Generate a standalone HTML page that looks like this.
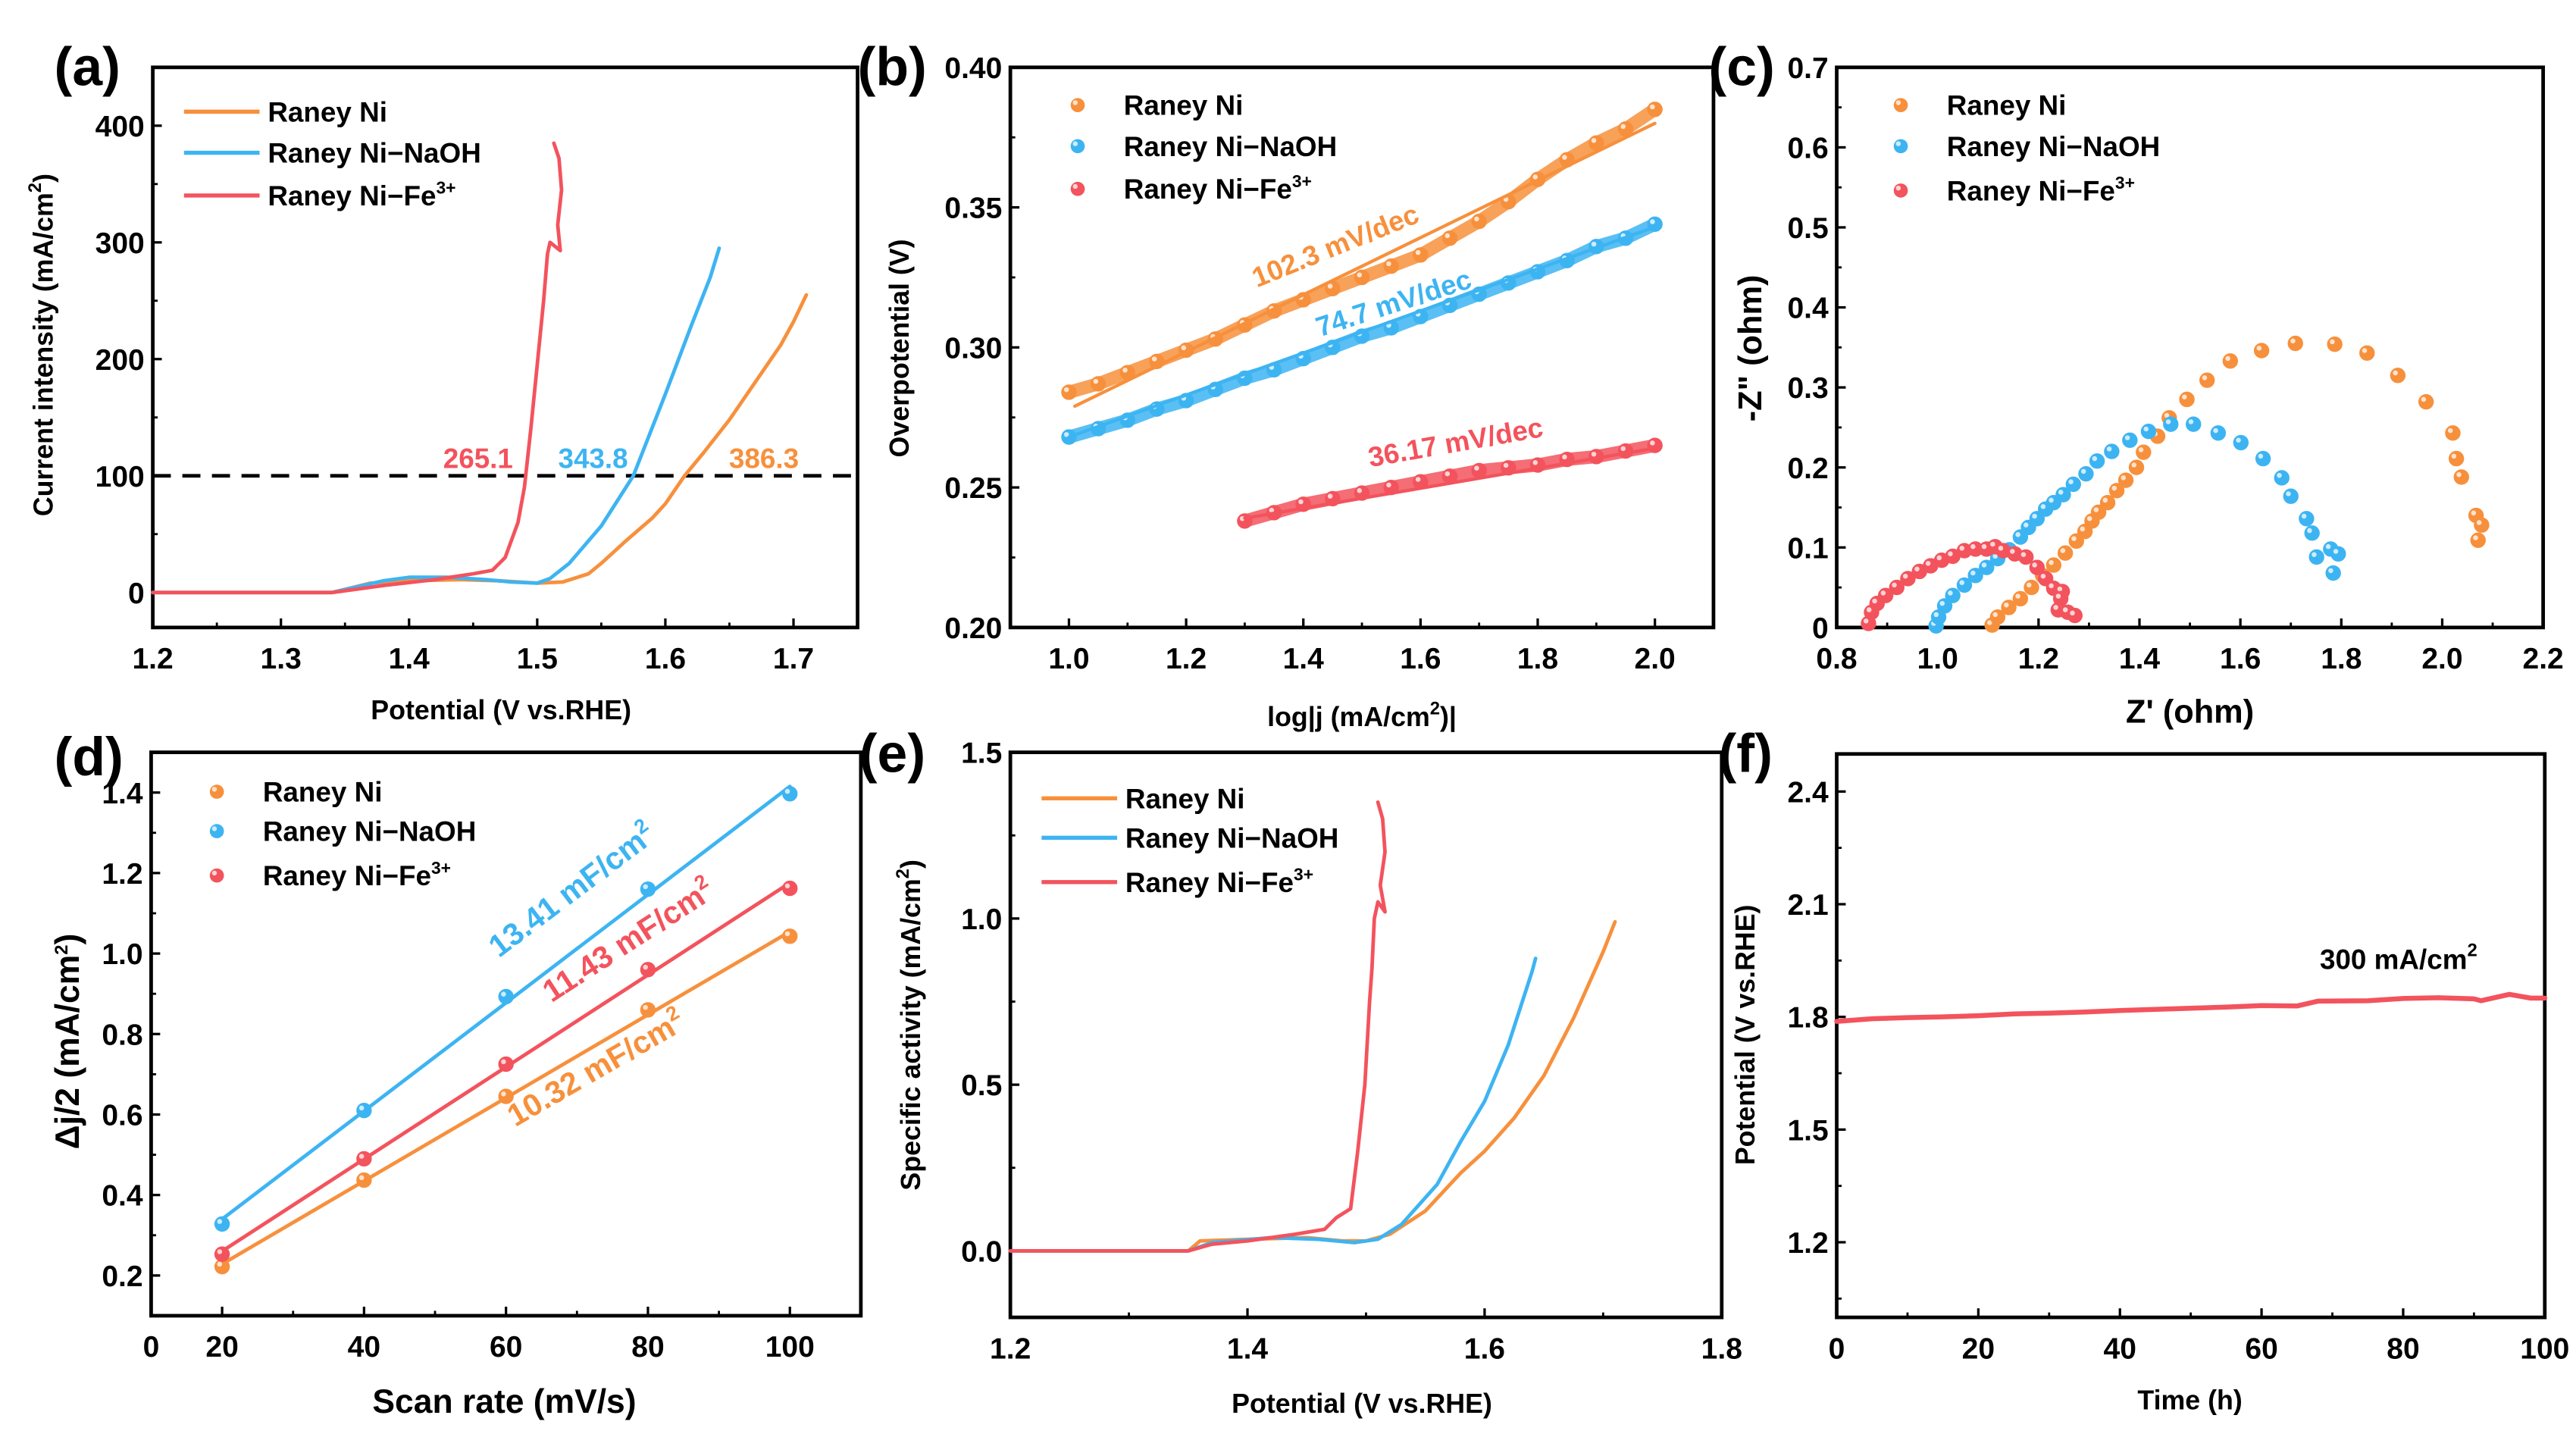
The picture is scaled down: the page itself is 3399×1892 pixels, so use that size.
<!DOCTYPE html>
<html><head><meta charset="utf-8">
<style>
html,body{margin:0;padding:0;background:#fff;}
svg{display:block;}
text{font-family:"Liberation Sans",Arial,sans-serif;font-weight:bold;}
</style></head>
<body>
<svg id="fig" width="3399" height="1892" viewBox="0 0 1568 873" preserveAspectRatio="none" xmlns="http://www.w3.org/2000/svg"></svg>
<script>
// ===== DATA =====
const ORANGE="#F7903C", BLUE="#3DB4F2", RED="#F3535D";
// (a) LSV: [V, mA/cm2]
const aNi=[[1.2,0],[1.34,0],[1.355,4],[1.37,8],[1.4,10],[1.44,11],[1.47,10],[1.5,8],[1.52,9],[1.54,16],[1.55,25],[1.57,45],[1.59,64],[1.6,76],[1.615,100],[1.63,120],[1.65,148],[1.67,180],[1.69,212],[1.7,232],[1.71,255]];
const aNaOH=[[1.2,0],[1.34,0],[1.36,5],[1.38,10],[1.4,13],[1.43,13],[1.46,11],[1.48,9],[1.5,8],[1.51,12],[1.525,25],[1.55,57],[1.575,100],[1.6,170],[1.62,228],[1.635,270],[1.642,295]];
const aFe=[[1.2,0],[1.34,0],[1.36,3],[1.38,6],[1.42,11],[1.45,16],[1.465,19],[1.475,30],[1.485,60],[1.49,90],[1.495,140],[1.5,195],[1.505,250],[1.508,290],[1.51,300],[1.518,293],[1.516,315],[1.519,345],[1.517,372],[1.513,385]];
const aRefCurrent=[100];
const aLabels=["265.1","343.8","386.3"];
// (b) Tafel: [log j, V]
const bNi=[[1.0,.284],[1.05,.287],[1.1,.291],[1.15,.295],[1.2,.299],[1.25,.303],[1.3,.308],[1.35,.313],[1.4,.317],[1.45,.321],[1.5,.325],[1.55,.329],[1.6,.333],[1.65,.339],[1.7,.345],[1.75,.352],[1.8,.360],[1.85,.367],[1.9,.373],[1.95,.378],[2.0,.385]];
const bNaOH=[[1.0,.268],[1.05,.271],[1.1,.274],[1.15,.278],[1.2,.281],[1.25,.285],[1.3,.289],[1.35,.292],[1.4,.296],[1.45,.300],[1.5,.304],[1.55,.307],[1.6,.311],[1.65,.315],[1.7,.319],[1.75,.323],[1.8,.327],[1.85,.331],[1.9,.336],[1.95,.339],[2.0,.344]];
const bFe=[[1.3,.238],[1.35,.241],[1.4,.244],[1.45,.246],[1.5,.248],[1.55,.250],[1.6,.252],[1.65,.254],[1.7,.256],[1.75,.257],[1.8,.258],[1.85,.260],[1.9,.261],[1.95,.263],[2.0,.265]];
const bFitNi=[[1.01,.279],[2.0,.380]];
const bFitNaOH=[[1.0,.268],[2.0,.343]];
const bFitFe=[[1.3,.239],[2.0,.264]];
const bSlopes=["102.3 mV/dec","74.7 mV/dec","36.17 mV/dec"];
// (c) Nyquist: [Z', -Z'']
const cNi=[[1.108,.003],[1.119,.013],[1.141,.025],[1.164,.036],[1.186,.050],[1.208,.065],[1.230,.078],[1.253,.093],[1.275,.108],[1.292,.120],[1.306,.133],[1.319,.144],[1.337,.156],[1.355,.171],[1.373,.184],[1.394,.200],[1.408,.219],[1.436,.239],[1.459,.262],[1.494,.285],[1.534,.309],[1.580,.333],[1.642,.346],[1.709,.355],[1.787,.354],[1.851,.343],[1.912,.315],[1.968,.282],[2.021,.243],[2.028,.211],[2.038,.188],[2.067,.140],[2.078,.128],[2.071,.109]];
const cNaOH=[[0.997,.002],[1.002,.013],[1.014,.027],[1.030,.040],[1.053,.053],[1.075,.065],[1.097,.075],[1.119,.086],[1.142,.097],[1.164,.113],[1.180,.125],[1.197,.136],[1.214,.148],[1.230,.156],[1.249,.166],[1.269,.179],[1.294,.192],[1.316,.208],[1.345,.220],[1.381,.234],[1.418,.245],[1.462,.254],[1.507,.254],[1.556,.243],[1.601,.231],[1.645,.211],[1.682,.187],[1.700,.164],[1.731,.136],[1.742,.118],[1.751,.088],[1.779,.098],[1.794,.092],[1.784,.068]];
const cFe=[[0.863,.005],[0.869,.019],[0.880,.030],[0.897,.040],[0.919,.050],[0.941,.061],[0.964,.070],[0.986,.077],[1.008,.084],[1.030,.089],[1.053,.096],[1.075,.098],[1.097,.098],[1.114,.101],[1.130,.096],[1.153,.092],[1.175,.088],[1.197,.075],[1.214,.061],[1.230,.049],[1.247,.045],[1.244,.036],[1.239,.022],[1.258,.019],[1.272,.015]];
// (d) Cdl: scan rate vs dj/2
const dRates=[20,40,60,80,100];
const dNi=[0.222,0.437,0.645,0.860,1.043];
const dNaOH=[0.328,0.610,0.893,1.160,1.397];
const dFe=[0.253,0.490,0.725,0.960,1.162];
const dCdl=["10.32 mF/cm","13.41 mF/cm","11.43 mF/cm"];
// (e) specific activity
const eNi=[[1.2,0],[1.35,0],[1.36,.03],[1.4,.035],[1.45,.04],[1.48,.03],[1.5,.03],[1.52,.05],[1.55,.12],[1.58,.235],[1.6,.30],[1.625,.40],[1.65,.527],[1.675,.70],[1.7,.90],[1.71,.99]];
const eNaOH=[[1.2,0],[1.35,0],[1.37,.025],[1.42,.04],[1.46,.035],[1.49,.025],[1.51,.035],[1.53,.08],[1.56,.20],[1.58,.33],[1.6,.45],[1.62,.62],[1.64,.84],[1.643,.88]];
const eFe=[[1.2,0],[1.35,0],[1.37,.02],[1.4,.03],[1.44,.05],[1.465,.065],[1.475,.1],[1.487,.127],[1.493,.3],[1.499,.5],[1.503,.75],[1.505,.85],[1.507,1.0],[1.51,1.05],[1.516,1.02],[1.512,1.1],[1.516,1.2],[1.514,1.3],[1.51,1.35]];
// (f) stability: time (h) vs potential
const fTime=[0,5,10,15,20,25,30,35,40,45,50,55,60,65,68,75,80,85,90,91,95,98,100];
const fPot=[1.788,1.795,1.798,1.800,1.803,1.808,1.810,1.813,1.817,1.820,1.823,1.826,1.830,1.829,1.842,1.843,1.849,1.851,1.848,1.843,1.860,1.850,1.850];

// ===== HELPERS =====
const NS="http://www.w3.org/2000/svg";
const svg=document.getElementById('fig');
function mk(tag,attrs,parent){const e=document.createElementNS(NS,tag);for(const k in attrs)e.setAttribute(k,attrs[k]);(parent||svg).appendChild(e);return e;}
function txt(s,x,y,size,anchor,parent,fill){const t=mk('text',{x:x,y:y,'font-size':size,'text-anchor':anchor||'middle',fill:fill||'#000'},parent);t.textContent=s;return t;}

function makePanel(o){
  const g=mk('g',{});
  
  
  const sx=v=>o.L+(v-o.xd[0])/(o.xd[1]-o.xd[0])*(o.R-o.L);
  const sy=v=>o.B-(v-o.yd[0])/(o.yd[1]-o.yd[0])*(o.B-o.T);
  const ax=mk('g',{},g);
  
  
  for(let v=o.xminor[0];v<=o.xd[1]+1e-9;v+=o.xminor[1]){const X=sx(v);if(X<o.L+1||X>o.R-1)continue;mk('line',{x1:X,x2:X,y1:o.B,y2:o.B-3,stroke:'#000','stroke-width':1.3},ax);}
  for(let v=o.yminor[0];v<=o.yd[1]+1e-9;v+=o.yminor[1]){const Y=sy(v);if(Y<o.T+1||Y>o.B-1)continue;mk('line',{x1:o.L,x2:o.L+3,y1:Y,y2:Y,stroke:'#000','stroke-width':1.3},ax);}
  o.xt.forEach((v,i)=>{const X=sx(v);if(X>o.L+1&&X<o.R-1)mk('line',{x1:X,x2:X,y1:o.B,y2:o.B-5.5,stroke:'#000','stroke-width':1.5},ax);
    const t=txt(o.xl[i],X,o.B+o.xlOff,o.tfs,'middle',ax);});
  o.yt.forEach((v,i)=>{const Y=sy(v);mk('line',{x1:o.L,x2:o.L+5.5,y1:Y,y2:Y,stroke:'#000','stroke-width':1.5},ax);
    const t=txt(o.yl[i],o.L-5,Y+6.5,o.tfs,'end',ax);});
  const fr=mk('rect',{x:o.L,y:o.T,width:o.R-o.L,height:o.B-o.T,fill:'none',stroke:'#000','stroke-width':2.2},g);
  
  
  const xt=txt('',o.xtitle[1],o.xtitle[2],o.xtitle[3],'middle',g);xt.innerHTML=o.xtitle[0];
  
  
  const yt=txt('',0,0,o.ytitle[3],'middle',g);yt.innerHTML=o.ytitle[0];
  yt.setAttribute('transform','translate('+o.ytitle[1]+','+o.ytitle[2]+') rotate(-90)');
  
  
  const pl=txt(o.letter[0],o.letter[1],o.letter[2],33,'start',g);
  
  
  return {g,sx,sy};
}
function line(P,data,color,w,name){
  const pts=data.map(d=>P.sx(d[0]).toFixed(2)+','+P.sy(d[1]).toFixed(2)).join(' ');
  const e=mk('polyline',{points:pts,fill:'none',stroke:color,'stroke-width':w,'stroke-linejoin':'round','stroke-linecap':'round'},P.g);
  
  
  return e;
}
function dots(P,data,color,r,name){
  const g=mk('g',{},P.g);
  
  
  data.forEach(d=>{const X=P.sx(d[0]),Y=P.sy(d[1]);
    const c=mk('circle',{cx:X,cy:Y,r:r,fill:color,stroke:color,'stroke-width':0.8},g);
    
    
    mk('circle',{cx:X-r*0.35,cy:Y-r*0.35,r:r*0.35,fill:'#fff','fill-opacity':0.75},g);
  });
  return g;
}
function legend(P,x,ys,kind,fs){
  const names=['Raney Ni','Raney Ni\u2212NaOH','Raney Ni\u2212Fe<tspan dy="-7" font-size="'+(fs*0.62)+'">3+</tspan>'];
  const cols=[ORANGE,BLUE,RED];
  const g=mk('g',{},P.g);
  
  
  names.forEach((n,i)=>{
    const y=ys[i];
    const eg=mk('g',{},g);
    
    
    let tx;
    if(kind==='line'){mk('line',{x1:x,x2:x+46,y1:y,y2:y,stroke:cols[i],'stroke-width':2.5},eg);tx=x+51;}
    else{mk('circle',{cx:x,cy:y,r:4.3,fill:cols[i]},eg);mk('circle',{cx:x-1.5,cy:y-1.5,r:1.5,fill:'#fff','fill-opacity':0.75},eg);tx=x+28;}
    const t=txt('',tx,y+6,fs,'start',eg);t.innerHTML=n;
  });
}
function note(P,s,x,y,size,color,rot,name,sup){
  const t=txt('',0,0,size,'middle',P.g,color);
  t.innerHTML=s+(sup?'<tspan dy="-8" font-size="'+(size*0.65)+'">'+sup+'</tspan>':'');
  t.setAttribute('transform','translate('+x+','+y+') rotate('+rot+')');
  
  
  return t;
}
const SUP2='<tspan dy="-7" font-size="11">2</tspan><tspan dy="7">';

// ===== PANEL A =====
const PA=makePanel({name:'panel-a-lsv',L:93,R:522,T:41,B:382,xd:[1.2,1.75],yd:[-30,450],
  xt:[1.2,1.3,1.4,1.5,1.6,1.7],xl:['1.2','1.3','1.4','1.5','1.6','1.7'],xminor:[1.25,0.1],
  yt:[0,100,200,300,400],yl:['0','100','200','300','400'],yminor:[50,100],tfs:18,xlOff:25,
  xtitle:['Potential (V vs.RHE)',305,438,16.5],ytitle:['Current intensity (mA/cm'+SUP2+')</tspan>',32,210,16.5],letter:['(a)',33,52]});
{const Y=PA.sy(aRefCurrent[0]);const d=mk('line',{x1:93,x2:522,y1:Y,y2:Y,stroke:'#000','stroke-width':2.2,'stroke-dasharray':'11,7'},PA.g);
 
 }
line(PA,aNi,ORANGE,2.2,'series-raney-ni');
line(PA,aNaOH,BLUE,2.2,'series-raney-ni-naoh');
line(PA,aFe,RED,2.2,'series-raney-ni-fe');
note(PA,aLabels[0],291,285,17,RED,0,'overpotential-label-fe');
note(PA,aLabels[1],361,285,17,BLUE,0,'overpotential-label-naoh');
note(PA,aLabels[2],465,285,17,ORANGE,0,'overpotential-label-ni');
legend(PA,112,[68,93,119],'line',17);

// ===== PANEL B =====
const PB=makePanel({name:'panel-b-tafel',L:615,R:1043,T:41,B:382,xd:[0.9,2.1],yd:[0.2,0.4],
  xt:[1.0,1.2,1.4,1.6,1.8,2.0],xl:['1.0','1.2','1.4','1.6','1.8','2.0'],xminor:[0.9,0.1],
  yt:[0.2,0.25,0.3,0.35,0.4],yl:['0.20','0.25','0.30','0.35','0.40'],yminor:[0.225,0.05],tfs:18,xlOff:25,
  xtitle:['log|j (mA/cm'+SUP2+')|</tspan>',829,442,16.5],ytitle:['Overpotential (V)',553,212,16.5],letter:['(b)',522,52]});
[[bNi,ORANGE,'raney-ni'],[bNaOH,BLUE,'raney-ni-naoh'],[bFe,RED,'raney-ni-fe']].forEach(s=>{
  const l=line(PB,s[0],s[1],8,'series-band-'+s[2]);l.setAttribute('stroke-opacity','0.85');
  dots(PB,s[0],s[1],4.3,'series-'+s[2]);});
line(PB,bFitNi,ORANGE,2,'fit-line-raney-ni');
line(PB,bFitNaOH,BLUE,2,'fit-line-raney-ni-naoh');
line(PB,bFitFe,RED,2,'fit-line-raney-ni-fe');
note(PB,bSlopes[0],815,155,17,ORANGE,-22,'tafel-slope-ni');
note(PB,bSlopes[1],850,190,17,BLUE,-18,'tafel-slope-naoh');
note(PB,bSlopes[2],887,275,17,RED,-10,'tafel-slope-fe');
legend(PB,656,[64,89,115],'dot',17);

// ===== PANEL C =====
const PC=makePanel({name:'panel-c-nyquist',L:1118,R:1548,T:41,B:382,xd:[0.8,2.2],yd:[0,0.7],
  xt:[0.8,1.0,1.2,1.4,1.6,1.8,2.0,2.2],xl:['0.8','1.0','1.2','1.4','1.6','1.8','2.0','2.2'],xminor:[0.9,0.2],
  yt:[0,0.1,0.2,0.3,0.4,0.5,0.6,0.7],yl:['0','0.1','0.2','0.3','0.4','0.5','0.6','0.7'],yminor:[0.05,0.1],tfs:18,xlOff:25,
  xtitle:["Z' (ohm)",1333,440,20],ytitle:['-Z" (ohm)',1072,212,20],letter:['(c)',1040,52]});
dots(PC,cNi,ORANGE,4.3,'series-raney-ni');
dots(PC,cNaOH,BLUE,4.3,'series-raney-ni-naoh');
dots(PC,cFe,RED,4.3,'series-raney-ni-fe');
legend(PC,1157,[64,89,116],'dot',17);

// ===== PANEL D =====
const PD=makePanel({name:'panel-d-cdl',L:92,R:524,T:458,B:801,xd:[10,110],yd:[0.1,1.5],
  xt:[10,20,40,60,80,100],xl:['0','20','40','60','80','100'],xminor:[30,20],
  yt:[0.2,0.4,0.6,0.8,1.0,1.2,1.4],yl:['0.2','0.4','0.6','0.8','1.0','1.2','1.4'],yminor:[0.1,0.2],tfs:18,xlOff:25,
  xtitle:['Scan rate (mV/s)',307,860,20.5],ytitle:['Δj/2 (mA/cm'+SUP2+')</tspan>',48,634,20.5],letter:['(d)',33,472]});
function fit(xs,ys){const n=xs.length;let sx=0,sy=0,sxx=0,sxy=0;for(let i=0;i<n;i++){sx+=xs[i];sy+=ys[i];sxx+=xs[i]*xs[i];sxy+=xs[i]*ys[i];}
  const m=(n*sxy-sx*sy)/(n*sxx-sx*sx),b=(sy-m*sx)/n;return [[xs[0],m*xs[0]+b],[xs[n-1],m*xs[n-1]+b]];}
[[dNi,ORANGE,'raney-ni'],[dNaOH,BLUE,'raney-ni-naoh'],[dFe,RED,'raney-ni-fe']].forEach(s=>{
  line(PD,fit(dRates,s[0]),s[1],2.2,'fit-line-'+s[2]);
  dots(PD,dRates.map((r,i)=>[r,s[0][i]]),s[1],4.3,'series-'+s[2]);});
note(PD,dCdl[1],352,547,19,BLUE,-37,'cdl-label-naoh','2');
note(PD,dCdl[2],386,578,19,RED,-33,'cdl-label-fe','2');
note(PD,dCdl[0],366,656,19,ORANGE,-30,'cdl-label-ni','2');
legend(PD,132,[482,506,533],'dot',17);

// ===== PANEL E =====
const PE=makePanel({name:'panel-e-specific-activity',L:615,R:1048,T:458,B:802,xd:[1.2,1.8],yd:[-0.2,1.5],
  xt:[1.2,1.4,1.6,1.8],xl:['1.2','1.4','1.6','1.8'],xminor:[1.3,0.2],
  yt:[0,0.5,1.0,1.5],yl:['0.0','0.5','1.0','1.5'],yminor:[0.25,0.5],tfs:18,xlOff:25,
  xtitle:['Potential (V vs.RHE)',829,860,16.5],ytitle:['Specific activity (mA/cm'+SUP2+')</tspan>',560,624,16.5],letter:['(e)',523,470]});
line(PE,eNi,ORANGE,2.2,'series-raney-ni');
line(PE,eNaOH,BLUE,2.2,'series-raney-ni-naoh');
line(PE,eFe,RED,2.2,'series-raney-ni-fe');
legend(PE,634,[486,510,537],'line',17);

// ===== PANEL F =====
const PF=makePanel({name:'panel-f-stability',L:1118,R:1549,T:459,B:802,xd:[0,100],yd:[1.0,2.5],
  xt:[0,20,40,60,80,100],xl:['0','20','40','60','80','100'],xminor:[10,20],
  yt:[1.2,1.5,1.8,2.1,2.4],yl:['1.2','1.5','1.8','2.1','2.4'],yminor:[1.05,0.3],tfs:18,xlOff:25,
  xtitle:['Time (h)',1333,858,16.5],ytitle:['Potential (V vs.RHE)',1068,630,16.5],letter:['(f)',1046,470]});
line(PF,fTime.map((t,i)=>[t,fPot[i]]),RED,3,'series-stability');
note(PF,'300 mA/cm',1460,590,17,'#000',0,'current-density-label','2');
</script>
</body></html>
